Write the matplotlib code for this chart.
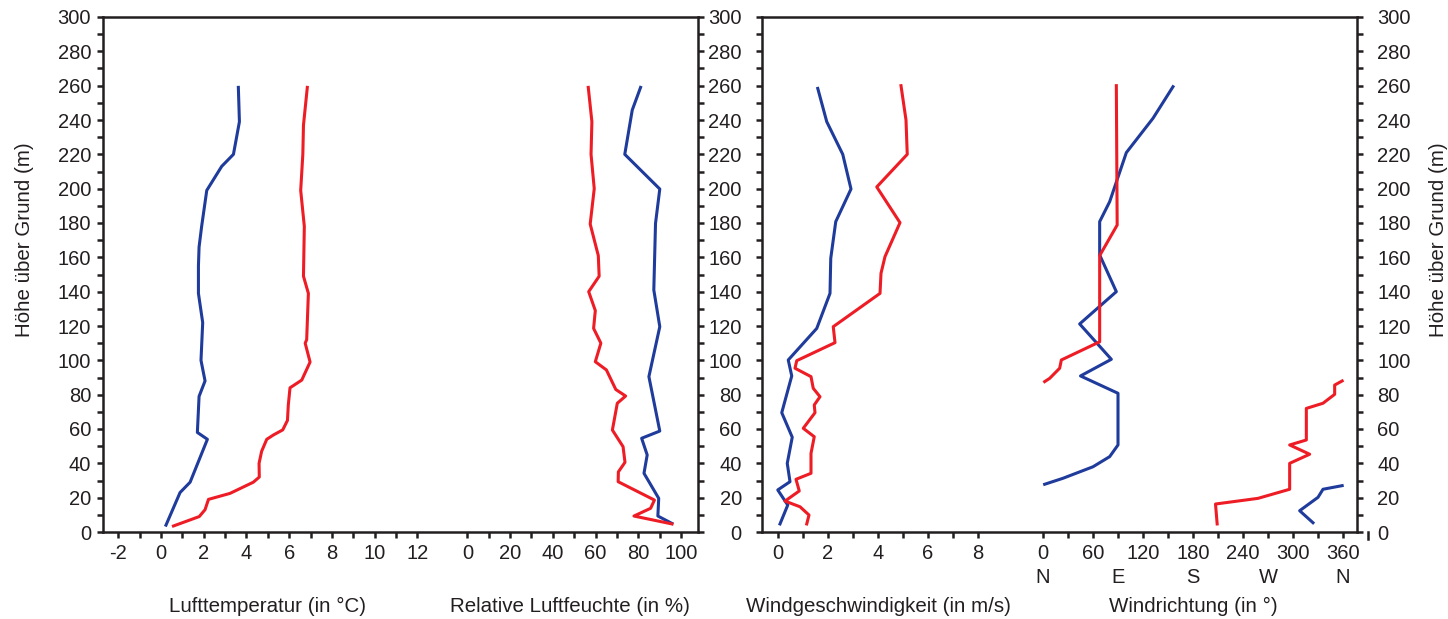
import numpy as np
import matplotlib
matplotlib.use('Agg')
import matplotlib.pyplot as plt
import matplotlib.transforms as mtransforms

plt.rcParams['font.family'] = ['Liberation Sans', 'DejaVu Sans']

BLUE = '#1f3b9b'
RED = '#ee1c25'
INK = '#231f20'

# Lufttemperatur (°C)
temp_blue_h = [4, 23, 29, 54, 58, 79, 88, 100, 122, 139, 155, 166, 178, 199, 213, 220, 239, 259]
temp_blue = [0.23, 0.89, 1.36, 2.17, 1.70, 1.78, 2.06, 1.87, 1.95, 1.75, 1.75, 1.78, 1.90, 2.14, 2.84, 3.39, 3.67, 3.62]
temp_red_h = [3.5, 9, 13, 19, 22.5, 29, 32, 40, 47, 54, 56.5, 59.5, 65, 74, 84, 88.5, 99, 110, 112, 139,
              149, 178, 199, 220, 237, 259]
temp_red = [0.58, 1.79, 2.06, 2.22, 3.23, 4.32, 4.6, 4.59, 4.71, 4.95, 5.26, 5.7, 5.92, 5.96, 6.04, 6.59,
            6.98, 6.75, 6.82, 6.9, 6.67, 6.71, 6.54, 6.64, 6.67, 6.85]

# Relative Luftfeuchte (%)
rh_blue_h = [5, 9.3, 19.6, 34.2, 44.9, 54.6, 58.8, 90.5, 119.6, 141, 179.8, 199.8, 220, 245.8, 259]
rh_blue = [95.8, 89.2, 89.6, 82.7, 84.2, 81.6, 90.1, 85, 90.1, 87.3, 88.1, 90.1, 73.7, 77.2, 81.1]
rh_red_h = [4.7, 9.3, 13.8, 18.6, 29.3, 35, 40.6, 49.7, 59.4, 75, 79.2, 83, 94.4, 99.2, 110, 118.6, 129,
            140, 149, 161, 179.4, 200, 220, 239, 259]
rh_red = [95.8, 78, 85.8, 87.6, 70.6, 70.7, 73.8, 72.9, 67.9, 70.2, 74.1, 69.5, 65.1, 59.9, 62.5, 59.1,
          59.9, 56.8, 61.7, 61.3, 57.5, 59.4, 57.9, 58.3, 56.6]

# Windgeschwindigkeit (m/s)
ws_blue_h = [4.7, 15.7, 24.5, 29.3, 40, 55.2, 69.5, 90.9, 100.2, 118.6, 139, 159.4, 180.8, 199.8, 220, 239, 258.4]
ws_blue = [0.08, 0.39, -0.01, 0.48, 0.37, 0.57, 0.15, 0.55, 0.41, 1.55, 2.08, 2.11, 2.31, 2.92, 2.59, 1.95, 1.59]
ws_red_h = [4.7, 9.9, 14.7, 18, 23.9, 30.7, 34.2, 45.8, 55.5, 60.4, 69.5, 74, 78.8, 83.7, 90.5, 95.4, 99.8,
            110.3, 119.6, 139, 150.7, 160.4, 180.2, 201, 220, 240, 260]
ws_red = [1.15, 1.24, 0.88, 0.28, 0.85, 0.72, 1.32, 1.32, 1.45, 1.01, 1.48, 1.45, 1.68, 1.41, 1.32, 0.68,
          0.75, 2.28, 2.21, 4.08, 4.12, 4.28, 4.88, 3.95, 5.17, 5.12, 4.92]

# Windrichtung (°)
wd_blue_h = [5.4, 12.4, 20.2, 24.9, 27, 27.8, 31.3, 38, 43.9, 50.7, 80.8, 90.9, 100.6, 121.2, 140, 161.4,
             180.8, 192.4, 221, 241, 259.4]
wd_blue = [324, 308, 330, 336, 359, 2, 24, 60, 80, 90, 90, 45, 82, 44, 88, 68, 68, 80, 100, 132, 156]
wd_red_h = [4.7, 16.3, 19.6, 24.9, 40, 45.3, 50.7, 53.6, 72, 75, 80.2, 85.6, 88, 87.6, 89.5, 95.4, 100.2,
            110.8, 135, 161, 178.8, 260]
wd_red = [209, 207, 258, 296, 296, 320, 296, 316, 316, 336, 350, 350, 359, 2, 8, 20, 22, 68, 68, 68, 89, 88]

temp_ticks = list(range(-2, 13))
rh_ticks = list(range(0, 101, 10))
ws_ticks = list(range(0, 9))
wd_ticks = list(range(0, 361, 30))
compass = ['N', 'E', 'S', 'W', 'N']
compass_deg = [0, 90, 180, 270, 360]

# second scale of each panel sits on the same axis with an offset
RH_OFF = 14.35   # x position of 0 %
WD_OFF = 10.6    # x position of 0°


def rh_x(v):
    return RH_OFF + np.asarray(v, float) / 10.0


def wd_x(v):
    return WD_OFF + np.asarray(v, float) / 30.0


def split_wrap(h, d):
    # break the line where the direction jumps over N
    h = np.asarray(h, float)
    d = np.asarray(d, float)
    xs, ys = [d[0]], [h[0]]
    for i in range(1, len(d)):
        if abs(d[i] - d[i - 1]) > 180:
            xs.append(np.nan)
            ys.append(np.nan)
        xs.append(d[i])
        ys.append(h[i])
    return np.array(xs), np.array(ys)


fig = plt.figure(figsize=(14.48, 6.19), dpi=100)
ax1 = fig.add_axes([103 / 1448, 87 / 619, 595 / 1448, 515 / 619])
ax2 = fig.add_axes([762 / 1448, 87 / 619, 595 / 1448, 515 / 619])

lw = 2.2
ax1.plot(temp_blue, temp_blue_h, color=BLUE, lw=lw)
ax1.plot(temp_red, temp_red_h, color=RED, lw=lw)
ax1.plot(rh_x(rh_blue), rh_blue_h, color=BLUE, lw=lw)
ax1.plot(rh_x(rh_red), rh_red_h, color=RED, lw=lw)

ax2.plot(ws_blue, ws_blue_h, color=BLUE, lw=lw)
ax2.plot(ws_red, ws_red_h, color=RED, lw=lw)
xb, yb = split_wrap(wd_blue_h, wd_blue)
ax2.plot(wd_x(xb), yb, color=BLUE, lw=lw)
xr, yr = split_wrap(wd_red_h, wd_red)
ax2.plot(wd_x(xr), yr, color=RED, lw=lw)

ax1.set_xlim(-2.72, 25.15)
ax2.set_xlim(-0.64, 23.16)

t1 = list(temp_ticks) + list(rh_x(rh_ticks))
l1 = [str(t) if t % 2 == 0 else '' for t in temp_ticks] + \
     [str(t) if t % 20 == 0 else '' for t in rh_ticks]
ax1.set_xticks(t1)
ax1.set_xticklabels(l1)

t2 = list(ws_ticks) + list(wd_x(wd_ticks))
l2 = [str(t) if t % 2 == 0 else '' for t in ws_ticks] + \
     [str(t) if t % 60 == 0 else '' for t in wd_ticks]
ax2.set_xticks(t2)
ax2.set_xticklabels(l2)

for ax in (ax1, ax2):
    ax.set_ylim(0, 300)
    ax.set_yticks(range(0, 301, 20))
    ax.set_yticks(range(10, 300, 20), minor=True)
    for s in ax.spines.values():
        s.set_linewidth(1.8)
        s.set_color(INK)
    ax.tick_params(axis='both', which='both', direction='out', length=4.5, width=1.8,
                   color=INK, labelcolor=INK, labelsize=14.5, pad=4)
    ax.tick_params(axis='y', which='both', left=True, right=True)
    ax.tick_params(axis='x', which='both', top=False)

ax1.tick_params(axis='y', labelleft=True, labelright=False)
ax2.tick_params(axis='y', labelleft=True, labelright=True)
ax2.tick_params(axis='y', which='major', pad=10)

# stray tick beyond the right spine (390°)
tr2 = mtransforms.blended_transform_factory(ax2.transData, ax2.transAxes)
ax2.plot([wd_x(390), wd_x(390)], [0, -0.013], color=INK, lw=1.8, transform=tr2, clip_on=False)

for lab, deg in zip(compass, compass_deg):
    ax2.text(wd_x(deg), -0.099, lab, transform=tr2, ha='center', va='baseline',
             fontsize=14.5, color=INK)

tr1 = mtransforms.blended_transform_factory(ax1.transData, ax1.transAxes)
ax1.text(5.0, -0.1553, 'Lufttemperatur (in °C)', transform=tr1, ha='center', va='baseline',
         fontsize=14.8, color=INK)
ax1.text(rh_x(48), -0.1553, 'Relative Luftfeuchte (in %)', transform=tr1, ha='center',
         va='baseline', fontsize=14.8, color=INK)
ax2.text(4.0, -0.1553, 'Windgeschwindigkeit (in m/s)', transform=tr2, ha='center', va='baseline',
         fontsize=14.8, color=INK)
ax2.text(wd_x(180), -0.1553, 'Windrichtung (in °)', transform=tr2, ha='center', va='baseline',
         fontsize=14.8, color=INK)

fig.text(25 / 1448, 1 - 240 / 619, 'Höhe über Grund (m)', rotation=90, ha='center', va='center',
         fontsize=14.8, color=INK)
fig.text(1439 / 1448, 1 - 240 / 619, 'Höhe über Grund (m)', rotation=90, ha='center', va='center',
         fontsize=14.8, color=INK)

fig.savefig('out.png', dpi=100)
plt.close(fig)
